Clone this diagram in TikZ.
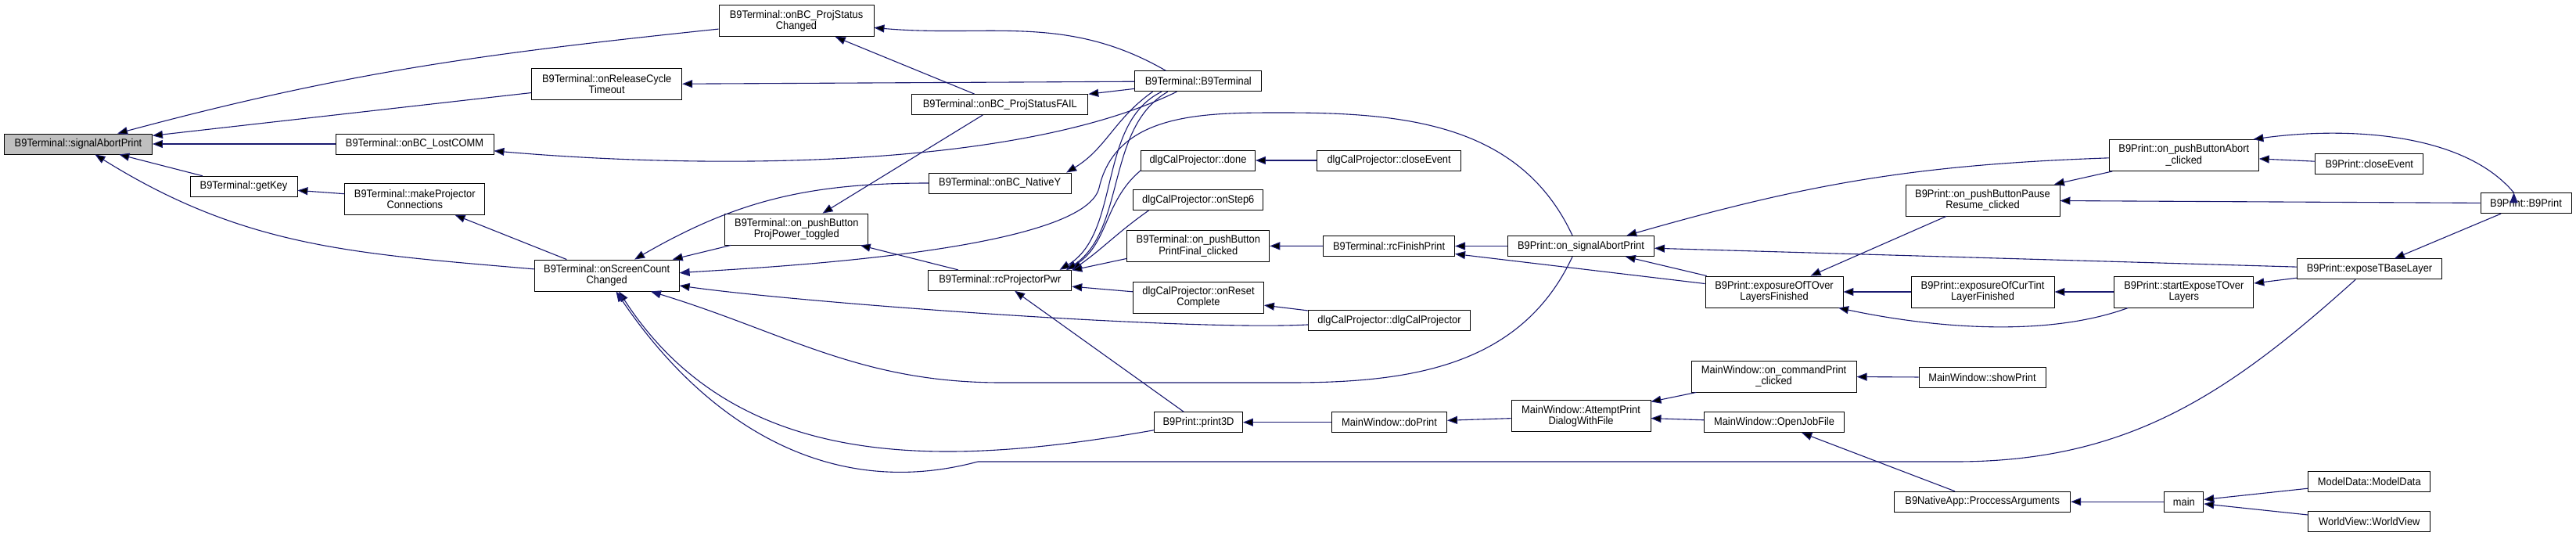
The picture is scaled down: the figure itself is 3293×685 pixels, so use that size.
\documentclass[tikz,border=0pt]{standalone}
\usepackage{fontspec}
\setmainfont{Liberation Sans}[FakeStretch=0.92]
\usepackage{tikz}
\usetikzlibrary{arrows.meta}
\definecolor{edgeblue}{HTML}{191970}
\definecolor{selgray}{HTML}{BFBFBF}
\tikzset{
  fn/.style={draw=black, fill=white, line width=0.9pt, inner xsep=4pt, inner ysep=0pt,
    minimum height=26pt, align=center, font=\fontsize{14}{14.5}\selectfont},
  fn2/.style={fn, minimum height=40pt},
  call/.style={->, draw=edgeblue, line width=1.1pt},
  >={Triangle[length=13pt,width=10pt]}
}

\begin{document}
\begin{tikzpicture}[x=1pt,y=1pt]
\useasboundingbox (0,0) rectangle (3293,-685);
\node[fn, minimum width=189pt, fill=selgray] (sap) at (100,-184) {B9Terminal::signalAbortPrint};
\node[fn2, minimum width=198pt] (pscd) at (1018,-26.7) {B9Terminal::onBC\_ProjStatus\\Changed};
\node[fn2, minimum width=192pt] (rct) at (775.7,-107.7) {B9Terminal::onReleaseCycle\\Timeout};
\node[fn, minimum width=202pt] (lost) at (530,-184) {B9Terminal::onBC\_LostCOMM};
\node[fn, minimum width=137pt] (getkey) at (311.5,-238.3) {B9Terminal::getKey};
\node[fn2, minimum width=179pt] (mpc) at (530.3,-254.3) {B9Terminal::makeProjector\\Connections};
\node[fn2, minimum width=185pt] (scc) at (775.7,-352) {B9Terminal::onScreenCount\\Changed};
\node[fn2, minimum width=183pt] (ppt) at (1018.3,-293) {B9Terminal::on\_pushButton\\ProjPower\_toggled};
\node[fn, minimum width=183pt] (rcpp) at (1278.3,-358.3) {B9Terminal::rcProjectorPwr};
\node[fn, minimum width=225pt] (psfail) at (1278.3,-133.5) {B9Terminal::onBC\_ProjStatusFAIL};
\node[fn, minimum width=162pt] (term) at (1531.8,-103.8) {B9Terminal::B9Terminal};
\node[fn, minimum width=182pt] (nativey) at (1278.2,-234) {B9Terminal::onBC\_NativeY};
\node[fn, minimum width=146pt] (done) at (1531.5,-205) {dlgCalProjector::done};
\node[fn, minimum width=184pt] (dclose) at (1775.6,-205) {dlgCalProjector::closeEvent};
\node[fn, minimum width=166pt] (step6) at (1531.8,-255.5) {dlgCalProjector::onStep6};
\node[fn2, minimum width=182pt] (pfc) at (1531.8,-314.3) {B9Terminal::on\_pushButton\\PrintFinal\_clicked};
\node[fn, minimum width=168pt] (rcfp) at (1775.6,-314.5) {B9Terminal::rcFinishPrint};
\node[fn, minimum width=187pt] (osap) at (2021,-314.5) {B9Print::on\_signalAbortPrint};
\node[fn2, minimum width=167pt] (reset) at (1532,-380) {dlgCalProjector::onReset\\Complete};
\node[fn, minimum width=207pt] (dcp) at (1776,-409.5) {dlgCalProjector::dlgCalProjector};
\node[fn, minimum width=113pt] (p3d) at (1532,-539.7) {B9Print::print3D};
\node[fn, minimum width=147pt] (doprint) at (1776,-539.7) {MainWindow::doPrint};
\node[fn2, minimum width=178pt] (apd) at (2021,-531.7) {MainWindow::AttemptPrint\\DialogWithFile};
\node[fn2, minimum width=197pt] (pr) at (2534.5,-256) {B9Print::on\_pushButtonPause\\Resume\_clicked};
\node[fn2, minimum width=176pt] (etol) at (2268,-373) {B9Print::exposureOfTOver\\LayersFinished};
\node[fn2, minimum width=183pt] (ectl) at (2534.5,-373) {B9Print::exposureOfCurTint\\LayerFinished};
\node[fn2, minimum width=211pt] (cpc) at (2267.6,-481) {MainWindow::on\_commandPrint\\\_clicked};
\node[fn, minimum width=162pt] (showprint) at (2534,-482.4) {MainWindow::showPrint};
\node[fn, minimum width=179pt] (ojf) at (2268,-539.7) {MainWindow::OpenJobFile};
\node[fn2, minimum width=191pt] (abort) at (2791.8,-198.5) {B9Print::on\_pushButtonAbort\\\_clicked};
\node[fn, minimum width=138pt] (pclose) at (3028.8,-209.4) {B9Print::closeEvent};
\node[fn, minimum width=116pt] (b9print) at (3229,-259.7) {B9Print::B9Print};
\node[fn, minimum width=185pt] (etbl) at (3029,-343.8) {B9Print::exposeTBaseLayer};
\node[fn2, minimum width=178pt] (seto) at (2791.8,-373) {B9Print::startExposeTOver\\Layers};
\node[fn, minimum width=225pt] (npa) at (2534.2,-641.2) {B9NativeApp::ProccessArguments};
\node[fn, minimum width=50pt] (main) at (2791.8,-641.2) {main};
\node[fn, minimum width=156pt] (modeldata) at (3028.8,-615.8) {ModelData::ModelData};
\node[fn, minimum width=156pt] (worldview) at (3028.8,-666.3) {WorldView::WorldView};

\path [call] (pscd) edge[out=186,in=15] (sap)
             (rct) edge (sap)
             (lost) edge (sap)
             (getkey) edge (sap)
             (scc) edge[out=175,in=-32] (sap)
             (mpc) edge (getkey)
             (scc) edge (mpc)
             (term.162) edge[out=150,in=-5] (pscd)
             (psfail) edge (pscd)
             (term) edge (rct)
             (term) edge[out=206,in=-5,looseness=0.7] (lost)
             (term) edge (psfail)
             (term.193) edge[out=215,in=31] (nativey.9)
             (term.196) edge[out=206,in=31,looseness=0.9] (rcpp.10)
             (term.199) edge[out=210,in=34,looseness=0.9] (rcpp.9)
             (nativey) edge[out=180,in=30] (scc)
             (ppt) edge (scc)
             (psfail) edge (ppt)
             (rcpp) edge (ppt)
             (done.190) edge[out=220,in=30] (rcpp.9)
             (step6.192) edge[out=215,in=35] (rcpp.8.5)
             (pfc.190) edge (rcpp.8)
             (reset) edge (rcpp)
             (p3d) edge (rcpp)
             (dcp) edge[out=183,in=-8,looseness=0.5] (scc)
             (p3d) edge[out=190,in=-57] (scc.-53)
             (dclose) edge (done)
             (rcfp) edge (pfc)
             (osap) edge (rcfp)
             (etol) edge (rcfp)
             (dcp) edge (reset)
             (doprint) edge (p3d)
             (apd) edge (doprint)
             (cpc) edge (apd)
             (ojf) edge (apd)
             (showprint) edge (cpc)
             (npa) edge (ojf)
             (main) edge (npa)
             (modeldata) edge (main)
             (worldview) edge (main)
             (abort) edge[out=182,in=16] (osap.13)
             (etbl) edge (osap)
             (etol) edge (osap)
             (pr) edge (etol)
             (ectl) edge (etol)
             (seto.196) edge[out=200,in=-12,looseness=0.8] (etol.-14)
             (seto) edge (ectl)
             (etbl) edge (seto)
             (abort) edge (pr)
             (b9print) edge (pr)
             (pclose) edge (abort)
             (b9print.139) edge[out=130,in=8,looseness=0.8] (abort.13)
             (b9print) edge (etbl);
\draw [call] (osap.129) to[out=115,in=0] (1640,-144) to[out=180,in=77] (1405,-240)
             to[out=257,in=4,looseness=0.4] (scc.2);
\draw [call] (osap.231) to[out=245,in=0] (1650,-489) -- (1280,-489)
             to[out=180,in=-17] (scc.-20);
\draw [call] (etbl.217) to[out=222,in=0] (2500,-590) -- (1250,-590)
             to[out=195,in=-56] (scc.-60);
\end{tikzpicture}
\end{document}
